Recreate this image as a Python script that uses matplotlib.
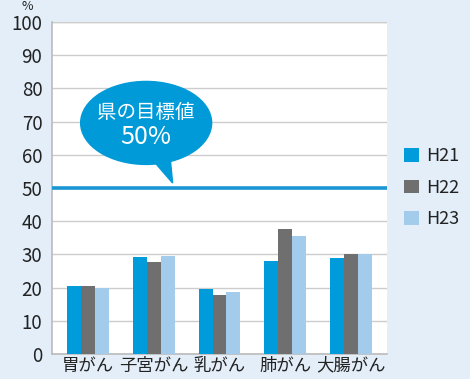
import numpy as np
import matplotlib.pyplot as plt
from matplotlib.patches import Ellipse, Polygon

plt.rcParams['font.family'] = ['Noto Sans CJK JP', 'DejaVu Sans']

categories = ['胃がん', '子宮がん', '乳がん', '肺がん', '大腸がん']
h21 = [20.6, 29.1, 19.7, 27.9, 28.8]
h22 = [20.6, 27.6, 17.9, 37.8, 30.0]
h23 = [20.0, 29.4, 18.8, 35.4, 30.0]
series = ['H21', 'H22', 'H23']
target = 50

bg = '#E3EEF9'
colors = ['#009BDB', '#6F6F6F', '#A2CBEC']

fig = plt.figure(figsize=(4.7, 3.79), dpi=100, facecolor=bg)
ax = fig.add_axes([52/470, 25/379, 335/470, 332/379])
ax.set_facecolor('white')

x = np.arange(len(categories))
w = 0.21
for i, (vals, name) in enumerate(zip([h21, h22, h23], series)):
    ax.bar(x + (i - 1) * w, vals, w, color=colors[i], label=name, zorder=3)

ax.axhline(target, color='#1A96D4', lw=2.6, zorder=4)

ax.set_ylim(0, 100)
ax.set_xlim(-0.55, 4.55)
ax.set_yticks(range(0, 101, 10))
ax.set_xticks(x)
ax.set_xticklabels(categories, fontsize=12.5)
ax.tick_params(axis='y', labelsize=13.5, length=0, pad=7, labelcolor='#222222')
ax.tick_params(axis='x', length=0, pad=2, labelcolor='#222222')
ax.yaxis.grid(True, color='#CCCCCC', lw=1, zorder=0)
ax.set_axisbelow(True)
for s in ['top', 'right']:
    ax.spines[s].set_visible(False)
for s in ['left', 'bottom']:
    ax.spines[s].set_color('#BBBBBB')
    ax.spines[s].set_linewidth(1.2)
ax.axhline(100, color='#CCCCCC', lw=1, zorder=0)

fig.text(27/470, 0.999, '%', fontsize=9, ha='center', va='top', color='#222222')

# callout bubble
ax.add_patch(Polygon([(0.27, 0.62), (0.35, 0.62), (0.36, 0.515)], closed=True,
                     transform=ax.transAxes, color='#009AD8', zorder=5, clip_on=False))
ax.add_patch(Ellipse((0.281, 0.696), 0.391, 0.25, transform=ax.transAxes,
                     color='#009AD8', zorder=5, clip_on=False))
ax.text(0.281, 0.728, '県の目標値', transform=ax.transAxes, ha='center', va='center',
        color='white', fontsize=14, zorder=6)
ax.text(0.281, 0.655, '50%', transform=ax.transAxes, ha='center', va='center',
        color='white', fontsize=18, zorder=6)

leg = fig.legend(loc='upper left', bbox_to_anchor=(388/470, 1 - 131/379), frameon=False,
                 fontsize=13, handlelength=0.8, handleheight=0.8, labelspacing=0.75,
                 handletextpad=0.4)
for t in leg.get_texts():
    t.set_color('#222222')

fig.savefig('out.png', dpi=100, facecolor=bg)
